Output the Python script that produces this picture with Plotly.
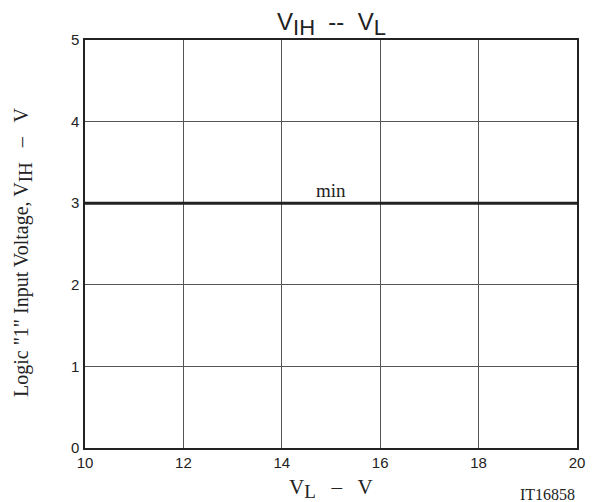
import plotly.graph_objects as go

x_vals = [10, 20]
y_vals = [3, 3]
x_ticks = [10, 12, 14, 16, 18, 20]
y_ticks = [0, 1, 2, 3, 4, 5]

fig = go.Figure()
fig.add_trace(go.Scatter(x=x_vals, y=y_vals, mode="lines",
                         line=dict(color="#222222", width=3), showlegend=False, hoverinfo="skip"))

serif = "Liberation Serif, Times New Roman, serif"
sans = "Liberation Sans, Arial, sans-serif"
ink = "#222222"

fig.update_layout(
    width=587, height=494,
    margin=dict(l=77, r=18, t=32, b=54, autoexpand=False),
    paper_bgcolor="white", plot_bgcolor="white",
    xaxis=dict(range=[10, 20], tickvals=x_ticks, showgrid=True, gridcolor="#555555", gridwidth=1,
               showline=True, linecolor=ink, linewidth=1.5, mirror=True, ticks="",
               tickfont=dict(family=sans, size=15, color=ink), zeroline=False, ticklabelstandoff=0),
    yaxis=dict(range=[0, 5], tickvals=y_ticks, showgrid=True, gridcolor="#555555", gridwidth=1,
               showline=True, linecolor=ink, linewidth=1.5, mirror=True, ticks="",
               tickfont=dict(family=sans, size=15, color=ink), zeroline=False, ticklabelstandoff=1),
    annotations=[
        dict(text="V<sub><span style='font-size:22px'>IH</span></sub>  --  V<sub><span style='font-size:22px'>L</span></sub>",
             x=0.5, xref="paper", y=1.0, yref="paper",
             yanchor="bottom", yshift=-2, showarrow=False, font=dict(family=sans, size=24, color=ink)),
        dict(text="V<sub><span style='font-size:19px'>L</span></sub>   –   V", x=0.5, xref="paper", xanchor="center",
             y=0, yref="paper", yanchor="top",
             yshift=-25, showarrow=False, font=dict(family=serif, size=21, color=ink)),
        dict(text="IT16858", x=0.94, xref="paper", y=0, yref="paper", yanchor="top", xanchor="center",
             showarrow=False, yshift=-36, font=dict(family=serif, size=16, color=ink)),
        dict(text="Logic \"1\" Input Voltage, V<sub><span style='font-size:19px'>IH</span></sub>   –   V",
             x=0, xref="paper", xanchor="left", y=0.478, yref="paper",
             xshift=-77, textangle=-90, showarrow=False, font=dict(family=serif, size=20, color=ink)),
        dict(text="min", x=15, xref="x", y=3, yref="y", yanchor="bottom", yshift=0, showarrow=False,
             font=dict(family=serif, size=19, color=ink)),
    ],
)

fig.write_html("out.html")
